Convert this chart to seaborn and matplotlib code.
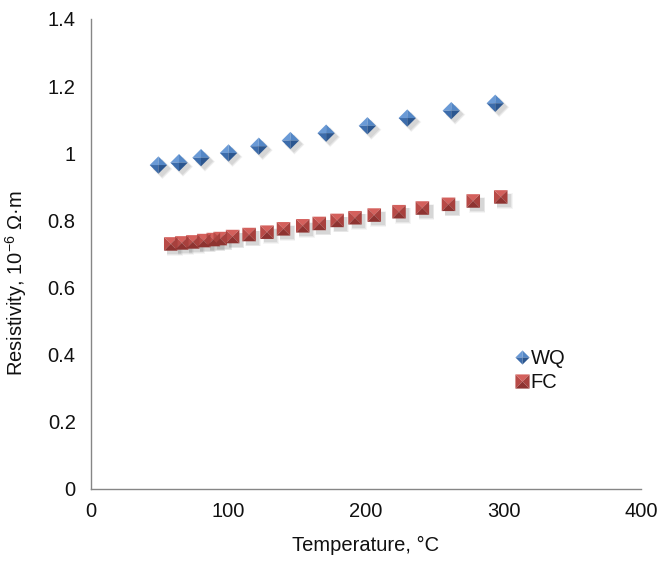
import numpy as np
import pandas as pd
import matplotlib
matplotlib.use("Agg")
import matplotlib.pyplot as plt
import seaborn as sns
from matplotlib.transforms import offset_copy
from matplotlib.lines import Line2D
from matplotlib.legend_handler import HandlerTuple

# Resistivity versus temperature for water-quenched (WQ) and furnace-cooled (FC) samples
wq_temp = [49, 64, 80, 100, 122, 145, 171, 201, 230, 262, 294]
wq_res = [0.965, 0.972, 0.987, 1.001, 1.021, 1.038, 1.060, 1.082, 1.105, 1.127, 1.149]

fc_temp = [58, 66, 74, 82, 89, 94, 103, 115, 128, 140, 154, 166, 179, 192, 206,
           224, 241, 260, 278, 298]
fc_res = [0.730, 0.733, 0.736, 0.740, 0.743, 0.746, 0.752, 0.758, 0.765, 0.775,
          0.784, 0.791, 0.800, 0.808, 0.816, 0.826, 0.837, 0.848, 0.858, 0.870]

x_ticks = [0, 100, 200, 300, 400]
y_ticks = [0, 0.2, 0.4, 0.6, 0.8, 1.0, 1.2, 1.4]
y_tick_labels = ["0", "0.2", "0.4", "0.6", "0.8", "1", "1.2", "1.4"]

wq = pd.DataFrame({"Temperature": wq_temp, "Resistivity": wq_res})
fc = pd.DataFrame({"Temperature": fc_temp, "Resistivity": fc_res})

sns.set_theme(style="white")
plt.rcParams["font.family"] = ["Liberation Sans", "DejaVu Sans"]
plt.rcParams["mathtext.fontset"] = "custom"
plt.rcParams["mathtext.rm"] = "Liberation Sans"
plt.rcParams["mathtext.it"] = "Liberation Sans:italic"

FS = 14.5
TEXT = "#111111"

W, H = 658, 561
fig = plt.figure(figsize=(W / 100, H / 100), dpi=100)
AX_L, AX_R, AX_B, AX_T = 91, 641, 489, 19
ax = fig.add_axes([AX_L / W, 1 - AX_B / H, (AX_R - AX_L) / W, (AX_B - AX_T) / H])

# Pyramid-style markers: each facet is a triangle drawn with its own shade
diamond = np.array([(0, 1), (1, 0), (0, -1), (-1, 0)], float)
diamond_facets = [
    (np.array([(0, 0), (-1, 0), (0, 1)], float), "#6a9ad6"),
    (np.array([(0, 0), (0, 1), (1, 0)], float), "#5487c6"),
    (np.array([(0, 0), (-1, 0), (0, -1)], float), "#3c6cab"),
    (np.array([(0, 0), (1, 0), (0, -1)], float), "#2b568f"),
]
square = np.array([(-1, -1), (1, -1), (1, 1), (-1, 1)], float)
square_facets = [
    (np.array([(0, 0), (-1, 1), (1, 1)], float), "#d4605c"),
    (np.array([(0, 0), (-1, 1), (-1, -1)], float), "#b84a47"),
    (np.array([(0, 0), (1, 1), (1, -1)], float), "#a7403d"),
    (np.array([(0, 0), (-1, -1), (1, -1)], float), "#8e3331"),
]

WQ_SIZE = 156
FC_SIZE = 95


def draw_shadow(df, shape, size):
    # soft drop shadow toward the lower right
    for dx, grow, alpha in [(4, 1.35, 0.06), (4, 1.15, 0.09), (3.5, 1.0, 0.12)]:
        sns.scatterplot(data=df, x="Temperature", y="Resistivity", ax=ax,
                        marker=shape, s=size * grow, color="#606060",
                        alpha=alpha, edgecolor="none", linewidth=0, zorder=2)
        coll = ax.collections[-1]
        coll.set_offset_transform(offset_copy(ax.transData, fig=fig,
                                              x=dx, y=-dx, units="dots"))


def draw_pyramid(df, facets, size):
    for verts, shade in facets:
        sns.scatterplot(data=df, x="Temperature", y="Resistivity", ax=ax,
                        marker=verts, s=size, color=shade,
                        edgecolor="none", linewidth=0, zorder=3)


draw_shadow(fc, square, FC_SIZE)
draw_pyramid(fc, square_facets, FC_SIZE)
draw_shadow(wq, diamond, WQ_SIZE)
draw_pyramid(wq, diamond_facets, WQ_SIZE)

ax.set_xlim(0, 400)
ax.set_ylim(0, 1.4)
ax.set_xticks(x_ticks)
ax.set_xticklabels([str(t) for t in x_ticks])
ax.set_yticks(y_ticks)
ax.set_yticklabels(y_tick_labels)

for side in ["top", "right"]:
    ax.spines[side].set_visible(False)
for side in ["left", "bottom"]:
    ax.spines[side].set_color("#868686")
    ax.spines[side].set_linewidth(1.0)
ax.tick_params(axis="both", direction="out", length=4, width=1,
               color="#868686", labelsize=FS, labelcolor=TEXT)
ax.tick_params(axis="x", pad=5.5)
ax.tick_params(axis="y", pad=7)

ax.set_xlabel("Temperature, °C", fontsize=FS, color=TEXT)
ax.set_ylabel(r"Resistivity, 10$^{-6}$ Ω·m", fontsize=FS, color=TEXT)
ax.xaxis.set_label_coords(0.5, (AX_B - 535.5) / (AX_B - AX_T))
ax.yaxis.set_label_coords((29 - AX_L) / (AX_R - AX_L), (AX_B - 283) / (AX_B - AX_T))


def legend_handle(facets, ms):
    return tuple(Line2D([], [], linestyle="none", marker=v, markersize=ms,
                        markerfacecolor=c, markeredgewidth=0) for v, c in facets)


handles = [legend_handle(diamond_facets, 10.2), legend_handle(square_facets, 10.2)]
ax.legend(handles, ["WQ", "FC"],
          handler_map={tuple: HandlerTuple(ndivide=1, pad=0)},
          loc="upper left", bbox_to_anchor=(515.7 / W, 1 - 349 / H),
          bbox_transform=fig.transFigure, frameon=False, fontsize=FS,
          labelcolor=TEXT, handlelength=0.6, handletextpad=0.15,
          labelspacing=0.25, borderaxespad=0, borderpad=0)

fig.savefig("out.png", dpi=100)
